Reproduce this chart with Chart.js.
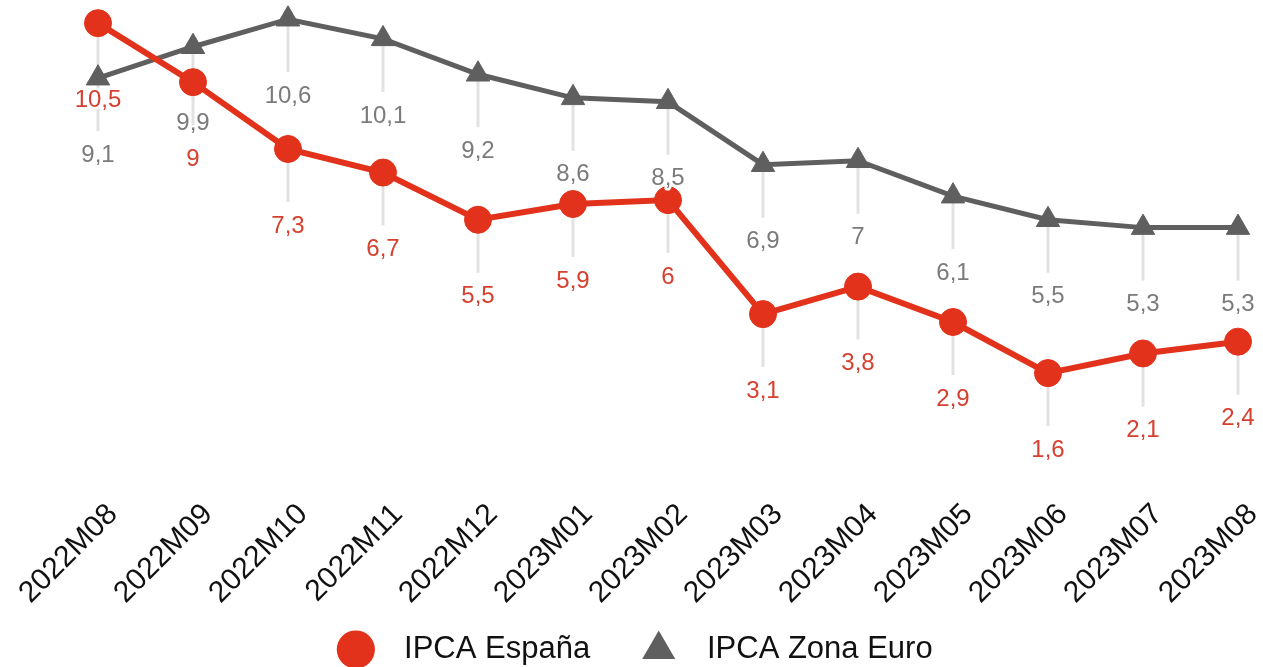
<!DOCTYPE html>
<html>
<head>
<meta charset="utf-8">
<script src="https://cdn.jsdelivr.net/npm/chart.js"></script>
<style>
  html, body { margin: 0; padding: 0; background: #fff; }
  #wrap { width: 1263px; height: 667px; }
</style>
</head>
<body>
<div id="wrap"><canvas id="chart" width="1263" height="667"></canvas></div>
<script>
// data
const categories = ["2022M08", "2022M09", "2022M10", "2022M11", "2022M12", "2023M01", "2023M02",
  "2023M03", "2023M04", "2023M05", "2023M06", "2023M07", "2023M08"];
const ipcaEspana = [10.5, 9, 7.3, 6.7, 5.5, 5.9, 6, 3.1, 3.8, 2.9, 1.6, 2.1, 2.4];
const ipcaZonaEuro = [9.1, 9.9, 10.6, 10.1, 9.2, 8.6, 8.5, 6.9, 7, 6.1, 5.5, 5.3, 5.3];
const seriesNames = ["IPCA España", "IPCA Zona Euro"];

const RED = "#e2321b";
const GREY = "#5f5f5f";
const FONT = "'Liberation Sans', Arial, sans-serif";

// decimal comma, as in the source
const fmt = v => String(v).replace(".", ",");

// grey drop line under every point, value label below it
const dropLabels = {
  id: "dropLabels",
  beforeDatasetsDraw(chart) {
    const ctx = chart.ctx;
    ctx.save();
    ctx.strokeStyle = "#e2e2e2";
    ctx.lineWidth = 3;
    chart.data.datasets.forEach((ds, i) => {
      chart.getDatasetMeta(i).data.forEach(pt => {
        ctx.beginPath();
        ctx.moveTo(pt.x, pt.y);
        ctx.lineTo(pt.x, pt.y + 53);
        ctx.stroke();
      });
    });
    ctx.restore();
  },
  afterDatasetsDraw(chart) {
    const ctx = chart.ctx;
    ctx.save();
    ctx.font = "24px " + FONT;
    ctx.textAlign = "center";
    ctx.textBaseline = "middle";
    ctx.lineJoin = "round";
    chart.data.datasets.forEach((ds, i) => {
      chart.getDatasetMeta(i).data.forEach((pt, j) => {
        const txt = fmt(ds.data[j]);
        const y = pt.y + 77;
        ctx.strokeStyle = "#fff";
        ctx.lineWidth = 5;
        ctx.strokeText(txt, pt.x, y);
        ctx.fillStyle = ds.labelColor;
        ctx.fillText(txt, pt.x, y);
      });
    });
    ctx.restore();
  }
};

new Chart(document.getElementById("chart"), {
  type: "line",
  data: {
    labels: categories,
    datasets: [
      {
        label: seriesNames[0],
        data: ipcaEspana,
        borderColor: RED,
        backgroundColor: RED,
        pointBackgroundColor: RED,
        pointBorderColor: RED,
        borderWidth: 6,
        pointStyle: "circle",
        pointRadius: 13.5,
        pointBorderWidth: 1,
        labelColor: "#d6412f",
        tension: 0,
        clip: false
      },
      {
        label: seriesNames[1],
        data: ipcaZonaEuro,
        borderColor: GREY,
        backgroundColor: GREY,
        pointBackgroundColor: GREY,
        pointBorderColor: GREY,
        borderWidth: 5,
        pointStyle: "triangle",
        pointRadius: 13.5,
        pointBorderWidth: 1,
        labelColor: "#7b7b7b",
        tension: 0,
        clip: false
      }
    ]
  },
  options: {
    responsive: false,
    animation: false,
    devicePixelRatio: 1,
    layout: { padding: { top: 2, bottom: -8, left: 10, right: 0 } },
    plugins: {
      tooltip: { enabled: false },
      legend: {
        position: "bottom",
        labels: {
          usePointStyle: true,
          boxHeight: 27,
          padding: 10,
          color: "#111",
          font: { family: FONT, size: 31 },
          generateLabels(chart) {
            const items = Chart.defaults.plugins.legend.labels.generateLabels(chart);
            // extra spacing around the legend text
            items.forEach((it, i) => {
              it.text = "  " + it.text + (i === 0 ? "     " : "");
              it.lineWidth = 0;
            });
            return items;
          }
        }
      }
    },
    scales: {
      x: {
        grid: { display: false, drawTicks: false },
        border: { display: false },
        ticks: {
          autoSkip: false,
          maxRotation: 45,
          minRotation: 45,
          padding: 2,
          labelOffset: 15,
          color: "#111",
          font: { family: FONT, size: 30 }
        },
        afterFit(scale) {
          scale.paddingLeft = 98;
          scale.paddingRight = 25;
          scale.height = 129;
        }
      },
      y: {
        display: false,
        min: -1.5,
        max: 10.72
      }
    }
  },
  plugins: [dropLabels]
});
</script>
</body>
</html>
